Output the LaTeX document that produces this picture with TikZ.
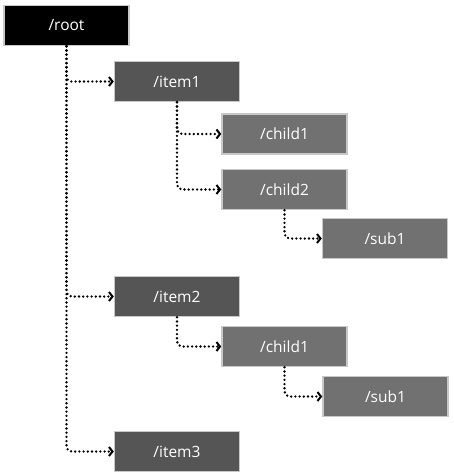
\documentclass[tikz,border=0pt]{standalone}
\usepackage{fontspec}
\setmainfont{Open Sans}
\usetikzlibrary{arrows.meta}

\definecolor{itemgray}{RGB}{85,85,85}
\definecolor{childgray}{RGB}{113,113,113}
\definecolor{edgegray}{RGB}{200,200,200}

\tikzset{
  dir/.style={rectangle, draw=edgegray, line width=1.5pt, text=white,
    minimum width=125pt, minimum height=40pt, font=\fontsize{15.5}{18}\selectfont},
  top/.style={dir, fill=black},
  item/.style={dir, fill=itemgray},
  child/.style={dir, fill=childgray},
  link/.style={line width=2.6pt, line cap=round, dash pattern=on 0pt off 4.2pt,
    rounded corners=5pt,
    -{Straight Barb[length=3.5pt, width=9pt, line width=2pt]}}
}

\begin{document}
\begin{tikzpicture}[x=1pt, y=-1pt]
  \useasboundingbox (0, 0) rectangle (454, 474);

  \node[top] (root) at (66.5, 25.5) {/root};

  \node[item] (item1) at (177, 81.5) {/item1};
  \node[child] (child1) at (284.5, 134) {/child1};
  \node[child] (child2) at (284.5, 189.5) {/child2};
  \node[child] (sub1) at (385, 238.5) {/sub1};

  \node[item] (item2) at (177, 296.5) {/item2};
  \node[child] (child1b) at (284.5, 346.5) {/child1};
  \node[child] (sub1b) at (385.5, 396.5) {/sub1};

  \node[item] (item3) at (177, 451.5) {/item3};

  \draw[link] (root) |- (item1);
  \draw[link] (root) |- (item2);
  \draw[link] (root) |- (item3);

  \draw[link] (item1) |- (child1);
  \draw[link] (item1) |- (child2);
  \draw[link] (child2) |- (sub1);

  \draw[link] (item2) |- (child1b);
  \draw[link] (child1b) |- (sub1b);
\end{tikzpicture}
\end{document}
